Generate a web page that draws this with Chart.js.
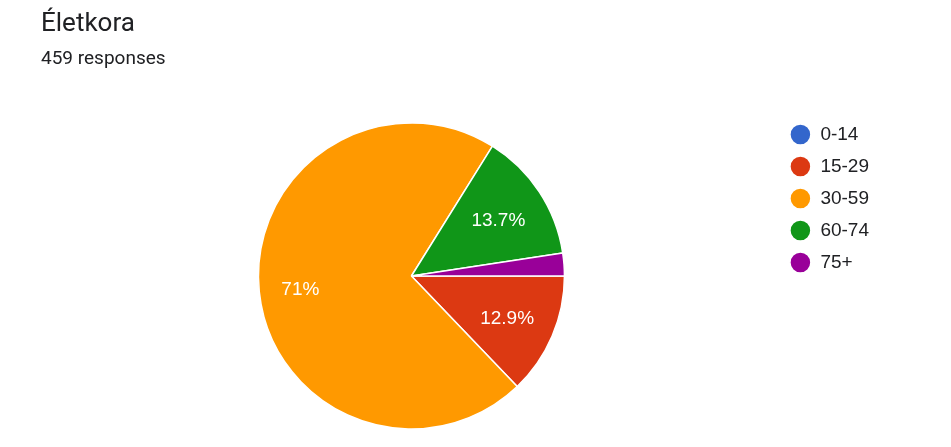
<!DOCTYPE html>
<html>
<head>
<meta charset="utf-8">
<script src="https://cdn.jsdelivr.net/npm/chart.js@4"></script>
<style>
    html, body { margin: 0; padding: 0; background: #fff; }
    #wrap { position: relative; width: 951px; height: 447px; }
    #title { position: absolute; left: 41px; top: 7px; font: 26px Roboto, sans-serif; color: #202124; }
    #subtitle { position: absolute; left: 41px; top: 46px; font: 19px Roboto, sans-serif; color: #202124; }
    canvas { position: absolute; left: 0; top: 0; }
</style>
</head>
<body>
<div id="wrap">
    <canvas id="ageChart" width="951" height="447"></canvas>
    <div id="title">Életkora</div>
    <div id="subtitle">459 responses</div>
</div>
<script>
// Age groups and response counts
const ageGroups = ['0-14', '15-29', '30-59', '60-74', '75+'];
const responseCounts = [0, 59, 326, 63, 11];
const sliceColors = ['#3366cc', '#dc3912', '#ff9900', '#109618', '#990099'];

const total = responseCounts.reduce((a, b) => a + b, 0);

// Percentage labels drawn inside the slices
const sliceLabels = {
    id: 'sliceLabels',
    afterDatasetsDraw(chart) {
        const ctx = chart.ctx;
        const meta = chart.getDatasetMeta(0);
        ctx.save();
        ctx.fillStyle = '#ffffff';
        ctx.font = '19px "Liberation Sans", Arial, sans-serif';
        ctx.textAlign = 'center';
        ctx.textBaseline = 'middle';
        meta.data.forEach((arc, i) => {
            const share = responseCounts[i] / total;
            if (share < 0.05) return;
            const mid = (arc.startAngle + arc.endAngle) / 2;
            const r = arc.outerRadius * (share > 0.5 ? 0.73 : 0.68);
            const text = parseFloat((share * 100).toFixed(1)) + '%';
            ctx.fillText(text, arc.x + Math.cos(mid) * r, arc.y + Math.sin(mid) * r + 2);
        });
        ctx.restore();
    }
};

new Chart(document.getElementById('ageChart'), {
    type: 'pie',
    data: {
        labels: ageGroups,
        datasets: [{
            data: responseCounts,
            backgroundColor: sliceColors,
            borderColor: '#ffffff',
            borderWidth: 1.5
        }]
    },
    options: {
        responsive: false,
        animation: false,
        rotation: 90,
        radius: 153,
        layout: {
            padding: { left: 46, top: 112, bottom: 7, right: 72 }
        },
        plugins: {
            legend: {
                position: 'right',
                align: 'start',
                labels: {
                    usePointStyle: true,
                    pointStyle: 'circle',
                    boxHeight: 15,
                    pointStyleWidth: 21,
                    padding: 13,
                    color: '#202124',
                    font: { family: '"Liberation Sans", Arial, sans-serif', size: 19 }
                }
            },
            tooltip: { enabled: false }
        }
    },
    plugins: [sliceLabels]
});
</script>
</body>
</html>
